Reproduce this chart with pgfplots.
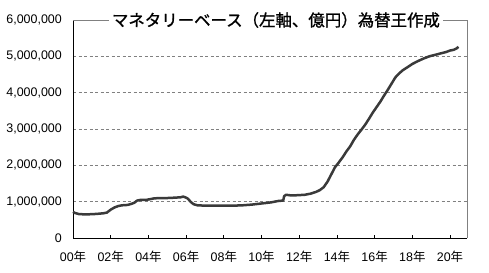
\documentclass[border=0pt]{standalone}
\usepackage{pgfplots}
\pgfplotsset{compat=1.18}
\usepackage{fontspec}
\setmainfont{Liberation Sans}
\newfontfamily\cjk{Noto Sans CJK JP}
\newfontfamily\cjkt[FakeBold=1.2]{Noto Sans CJK JP}
\definecolor{linec}{HTML}{3A3A3A}
\definecolor{gridc}{HTML}{808080}
\begin{document}
\begin{tikzpicture}
\path[use as bounding box] (-73bp,-35bp) rectangle (416bp,238bp);
\begin{axis}[
  scale only axis, width=394bp, height=218bp,
  at={(0,0)}, anchor=south west,
  xmin=0, xmax=20.9, ymin=0, ymax=6000000,
  axis x line*=bottom, axis y line*=left,
  axis line style={black, line width=0.8bp},
  xtick={0,2,...,20},
  xticklabels={{00{\cjk 年}},{02{\cjk 年}},{04{\cjk 年}},{06{\cjk 年}},{08{\cjk 年}},{10{\cjk 年}},{12{\cjk 年}},{14{\cjk 年}},{16{\cjk 年}},{18{\cjk 年}},{20{\cjk 年}}},
  ytick={0,1000000,2000000,3000000,4000000,5000000,6000000},
  yticklabels={0,{1,000,000},{2,000,000},{3,000,000},{4,000,000},{5,000,000},{6,000,000}},
  scaled y ticks=false,
  tick align=inside, major tick length=3bp,
  xtick style={black, line width=0.8bp},
  ytick style={draw=none},
  ymajorgrids, grid style={gridc, line width=0.8bp, dash pattern=on 3bp off 2.5bp},
  ticklabel style={font=\fontsize{12.5}{14}\selectfont, inner sep=0pt},
  yticklabel style={anchor=east, xshift=-11bp},
  xticklabel style={anchor=north, yshift=-13bp},
  clip=false,
]
\addplot[linec, line width=2.5bp, line join=round, no marks] coordinates {
(0.0,720000) (0.1,690000) (0.3,660000) (0.6,650000) (1.0,655000) (1.3,665000)
(1.6,680000) (1.8,700000) (2.0,780000) (2.2,840000) (2.4,880000) (2.6,900000)
(2.9,910000) (3.1,940000) (3.25,970000) (3.4,1030000) (3.6,1050000) (3.9,1050000)
(4.1,1070000) (4.3,1090000) (4.6,1100000) (5.0,1100000) (5.4,1110000) (5.7,1120000)
(5.85,1140000) (6.0,1110000) (6.1,1080000) (6.25,990000) (6.4,930000) (6.6,900000)
(7.0,890000) (7.5,890000) (8.0,890000) (8.5,890000) (9.0,900000) (9.5,920000)
(10.0,950000) (10.5,980000) (10.9,1020000) (11.15,1030000) (11.2,1150000) (11.3,1190000)
(11.6,1170000) (12.0,1180000) (12.3,1190000) (12.6,1220000) (12.9,1270000) (13.1,1320000)
(13.3,1400000) (13.5,1550000) (13.7,1750000) (13.9,1950000) (14.1,2080000) (14.3,2220000)
(14.5,2380000) (14.7,2520000) (14.9,2700000) (15.1,2850000) (15.3,2980000) (15.5,3120000)
(15.7,3280000) (15.9,3450000) (16.1,3600000) (16.3,3750000) (16.5,3920000) (16.7,4080000)
(16.9,4250000) (17.1,4420000) (17.3,4530000) (17.5,4620000) (17.8,4720000) (18.0,4790000)
(18.3,4870000) (18.6,4940000) (18.9,5000000) (19.2,5040000) (19.5,5080000) (19.8,5120000)
(20.0,5160000) (20.2,5180000) (20.35,5220000) (20.45,5260000)
};
\draw[gridc, line width=0.8bp] (rel axis cs:0,1) -- (rel axis cs:1,1) -- (rel axis cs:1,0);
\node[fill=white, inner xsep=3bp, inner ysep=1bp, font=\cjkt\fontsize{16.5}{18}\selectfont] at (rel axis cs:0.515,1) {マネタリーベース（左軸、億円）為替王作成};
\end{axis}
\end{tikzpicture}
\end{document}
